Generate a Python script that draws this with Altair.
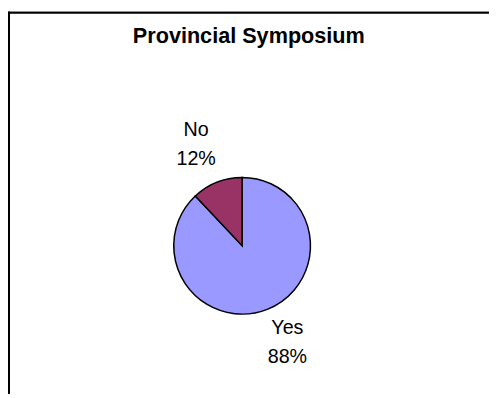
import altair as alt
import pandas as pd
import math

categories = ["Yes", "No"]
values = [88, 12]
colors = ["#9999FF", "#993366"]

df = pd.DataFrame({
    "category": categories,
    "value": values,
    "idx": list(range(len(categories))),
    "label": [f"{c}\n{v}%" for c, v in zip(categories, values)],
})

cx, cy = 238.0, 238.5

pie = alt.Chart(df).mark_arc(outerRadius=69.5, stroke="black", strokeWidth=1.5).encode(
    theta=alt.Theta("value:Q", stack=True),
    order=alt.Order("idx:Q", sort="ascending"),
    color=alt.Color("category:N", scale=alt.Scale(domain=categories, range=colors), legend=None),
    x=alt.value(cx),
    y=alt.value(cy),
)

text_style = dict(fontSize=20, font="Liberation Sans", lineBreak="\n", lineHeight=30,
                  color="black", align="center", baseline="middle")

label_base = alt.Chart(df).transform_window(
    cum="sum(value)", sort=[alt.SortField("idx")], frame=[None, 0]
).transform_joinaggregate(
    total="sum(value)"
).transform_calculate(
    mid=f"(datum.cum - datum.value / 2) / datum.total * {2 * math.pi}"
).encode(
    theta=alt.Theta("mid:Q", scale=None, stack=None),
    text="label:N",
    x=alt.value(cx),
    y=alt.value(cy),
)

label_no = label_base.mark_text(radius=127, **text_style).transform_filter(alt.datum.category == "No")
label_yes = label_base.mark_text(radius=125, dy=-33, **text_style).transform_filter(alt.datum.category == "Yes")

border_top = alt.Chart(df).mark_rule(color="black", strokeWidth=2).encode(
    x=alt.value(0), x2=alt.value(489), y=alt.value(1.5)
)
border_left = alt.Chart(df).mark_rule(color="black", strokeWidth=2).encode(
    x=alt.value(1), y=alt.value(0.5), y2=alt.value(390)
)

chart = alt.layer(border_top, border_left, pie, label_no, label_yes).properties(
    width=489,
    height=386,
    autosize=alt.AutoSizeParams(type="none"),
    padding={"left": 0, "top": 0, "right": 0, "bottom": 0},
    title=alt.Title(
        "Provincial Symposium", fontSize=22, font="Liberation Sans", fontWeight="bold",
        anchor="middle", baseline="alphabetic", offset=0, dy=55, dx=0.3, color="black"
    ),
    background="white",
).configure_view(stroke=None)

chart.save("out.html", embed_options={"renderer": "svg", "actions": False})
